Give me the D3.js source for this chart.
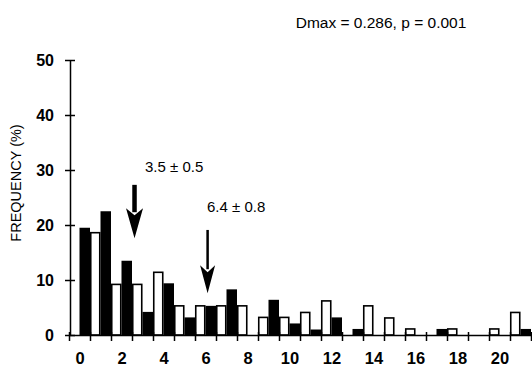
<!DOCTYPE html>
<html>
<head>
<meta charset="utf-8">
<script src="https://cdn.jsdelivr.net/npm/d3@7"></script>
<style>
  body { margin: 0; background: #fff; }
  svg { display: block; font-family: "Liberation Sans", Arial, sans-serif; }
</style>
</head>
<body>
<svg id="chart" width="532" height="368"></svg>
<script>
// data
var bins = d3.range(0, 22);
var blackFreq = [19.5, 22.5, 13.5, 4.2, 9.4, 3.2, 5.3, 8.3, 0, 6.4, 2.1, 1.0, 3.2, 1.1, 0, 0, 0, 1.1, 0, 0, 0, 1.1];
var whiteFreq = [18.6, 9.2, 9.2, 11.4, 5.3, 5.3, 5.3, 5.3, 3.2, 3.2, 4.1, 6.2, 0, 5.3, 3.1, 1.1, 0, 1.1, 0, 1.1, 4.1, 0];
var yTicks = [0, 10, 20, 30, 40, 50];
var xLabels = [0, 2, 4, 6, 8, 10, 12, 14, 16, 18, 20];
// arrows: x position, top and tip (in axis units), label
var arrowX = [2.62, 6.1];
var arrowTop = [27.3, 19.1];
var arrowTip = [17.6, 7.6];
var arrowText = ["3.5 \u00B1 0.5", "6.4 \u00B1 0.8"];
var title = "Dmax = 0.286, p = 0.001";

var svg = d3.select("#chart");

//scales
var x = d3.scaleLinear().domain([-0.5, 21.5]).range([69, 531]);
var y = d3.scaleLinear().domain([0, 50]).range([335, 60]);

//bars, black on the left half of each bin, white on the right half
svg.selectAll(".black")
  .data(bins)
  .enter()
  .append("rect")
  .attr("class", "black")
  .attr("x", function(d) { return x(d); })
  .attr("width", function(d) { return x(d + 0.5) - x(d); })
  .attr("y", function(d) { return y(blackFreq[d]); })
  .attr("height", function(d) { return y(0) - y(blackFreq[d]); })
  .attr("fill", "#000");

svg.selectAll(".white")
  .data(bins.filter(function(d) { return whiteFreq[d] > 0; }))
  .enter()
  .append("rect")
  .attr("class", "white")
  .attr("x", function(d) { return x(d + 0.5) + 0.75; })
  .attr("width", function(d) { return x(d + 1) - x(d + 0.5) - 1.5; })
  .attr("y", function(d) { return y(whiteFreq[d]); })
  .attr("height", function(d) { return y(0) - y(whiteFreq[d]); })
  .attr("fill", "#fff")
  .attr("stroke", "#000")
  .attr("stroke-width", 1.6);

//x axis: ticks between bins, labels on even values
var xAxis = svg.append("g")
  .attr("transform", "translate(0," + y(0) + ")")
  .call(d3.axisBottom(x)
    .tickValues(d3.range(-0.5, 22, 1))
    .tickFormat("")
    .tickSizeOuter(0));
xAxis.select(".domain").attr("stroke-width", 1.5);
xAxis.selectAll(".tick line").attr("y1", -3).attr("y2", 6).attr("stroke-width", 1.5);

var xLab = svg.append("g")
  .attr("transform", "translate(0," + y(0) + ")")
  .call(d3.axisBottom(x).tickValues(xLabels).tickSize(0).tickPadding(17));
xLab.select(".domain").remove();
xLab.selectAll("text")
  .attr("font-size", 16.5)
  .attr("font-weight", "bold")
  .attr("font-family", "Liberation Sans, Arial, sans-serif")
  .attr("fill", "#000");

//y axis
var yAxis = svg.append("g")
  .attr("transform", "translate(70,0)")
  .call(d3.axisLeft(y).tickValues(yTicks).tickSize(5).tickPadding(11).tickSizeOuter(0));
yAxis.select(".domain").attr("stroke-width", 1.5);
yAxis.selectAll(".tick line").attr("x1", -5).attr("x2", 5).attr("stroke-width", 1.5);
yAxis.selectAll("text")
  .attr("font-size", 16)
  .attr("font-weight", "bold")
  .attr("font-family", "Liberation Sans, Arial, sans-serif")
  .attr("fill", "#000");

svg.append("text")
  .attr("transform", "translate(21,183) rotate(-90)")
  .attr("text-anchor", "middle")
  .attr("font-size", 14.5)
  .text("FREQUENCY (%)");

svg.append("text")
  .attr("x", 381)
  .attr("y", 28)
  .attr("text-anchor", "middle")
  .attr("font-size", 15.5)
  .text(title);

//arrows
var arrowW = [4.5, 2.5];
var headW = [17, 15];
var headH = [30, 28];
arrowX.forEach(function(v, i) {
  var cx = x(v), yTop = y(arrowTop[i]), yTip = y(arrowTip[i]);
  var yHead = yTip - headH[i];
  svg.append("rect")
    .attr("x", cx - arrowW[i] / 2)
    .attr("y", yTop)
    .attr("width", arrowW[i])
    .attr("height", yHead - yTop + 4)
    .attr("fill", "#000");
  svg.append("path")
    .attr("d", "M" + (cx - headW[i] / 2) + "," + yHead +
      " L" + cx + "," + (yHead + 7) +
      " L" + (cx + headW[i] / 2) + "," + yHead +
      " L" + cx + "," + yTip + "Z")
    .attr("fill", "#000");
});

svg.append("text").attr("x", 145).attr("y", 172).attr("font-size", 15).text(arrowText[0]);
svg.append("text").attr("x", 207).attr("y", 212).attr("font-size", 15).text(arrowText[1]);
</script>
</body>
</html>
